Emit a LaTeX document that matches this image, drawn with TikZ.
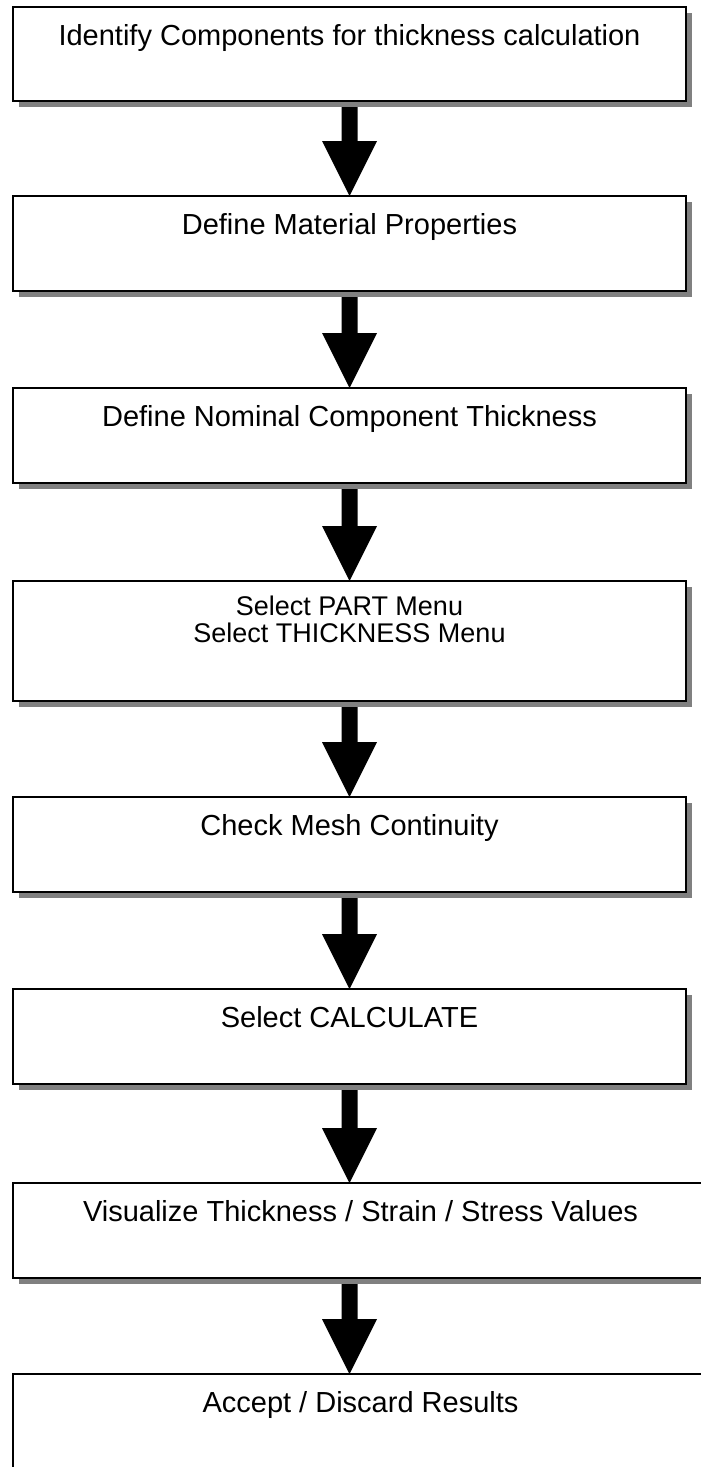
\documentclass[tikz,border=0pt]{standalone}
\usepackage{fontspec}
\setmainfont{Liberation Sans}
\usetikzlibrary{calc,shadows,backgrounds}

\tikzset{
  stepbox/.style={draw=black, line width=1.6pt, fill=white, inner sep=0pt,
    outer sep=0pt, anchor=north west,
    drop shadow={shadow xshift=5.5pt, shadow yshift=-5.5pt, fill=black!50, opacity=1}},
  steptext/.style={anchor=base, inner sep=0pt, font=\fontsize{29}{29}\selectfont},
  smalltext/.style={anchor=base, inner sep=0pt, font=\fontsize{27}{27}\selectfont},
}

% thick block arrow: 16pt shaft, 55pt triangular head ending at #2
\newcommand{\bigarrow}[2]{%
  \fill[black] let \p1=(#1), \p2=(#2) in
    (\x1-8pt,\y1) -- (\x1+8pt,\y1) -- (\x1+8pt,\y2+55pt) -- (\x1+27.5pt,\y2+55pt)
    -- (\x1,\y2) -- (\x1-27.5pt,\y2+55pt) -- (\x1-8pt,\y2+55pt) -- cycle;}

\begin{document}
\begin{tikzpicture}[x=1pt, y=1pt]
\useasboundingbox (0,0) rectangle (701,-1467);

% process boxes
\node[stepbox, minimum width=673pt, minimum height=94pt]  (b1) at (13,-7)    {};
\node[stepbox, minimum width=673pt, minimum height=95pt]  (b2) at (13,-196)  {};
\node[stepbox, minimum width=673pt, minimum height=95pt]  (b3) at (13,-388)  {};
\node[stepbox, minimum width=673pt, minimum height=120pt] (b4) at (13,-581)  {};
\node[stepbox, minimum width=673pt, minimum height=95pt]  (b5) at (13,-797)  {};
\node[stepbox, minimum width=673pt, minimum height=95pt]  (b6) at (13,-989)  {};
\node[stepbox, minimum width=695pt, minimum height=95pt]  (b7) at (13,-1183) {};
\node[stepbox, minimum width=695pt, minimum height=110pt] (b8) at (13,-1374) {};

% labels
\node[steptext]  (t1)  at ($(b1.north)+(0,-38)$)   {Identify Components for thickness calculation};
\node[steptext]  (t2)  at ($(b2.north)+(0,-38)$)   {Define Material Properties};
\node[steptext]  (t3)  at ($(b3.north)+(0,-38)$)   {Define Nominal Component Thickness};
\node[smalltext] (t4a) at ($(b4.north)+(0,-34.5)$) {Select PART Menu};
\node[smalltext] (t4b) at ($(b4.north)+(0,-61)$)   {Select THICKNESS Menu};
\node[steptext]  (t5)  at ($(b5.north)+(0,-38)$)   {Check Mesh Continuity};
\node[steptext]  (t6)  at ($(b6.north)+(0,-38)$)   {Select CALCULATE};
\node[steptext]  (t7)  at ($(b7.north)+(0,-38)$)   {Visualize Thickness / Strain / Stress Values};
\node[steptext]  (t8)  at ($(b8.north)+(0,-38)$)   {Accept / Discard Results};

% connectors, kept behind the boxes and their shadows
\begin{pgfonlayer}{background}
  \bigarrow{b1.south}{b2.north}
  \bigarrow{b2.south}{b3.north}
  \bigarrow{b3.south}{b4.north}
  \bigarrow{b4.south}{b5.north}
  \bigarrow{b5.south}{b6.north}
  \bigarrow{b6.south}{b7.north -| b6.south}
  \bigarrow{b7.south -| b1.south}{b8.north -| b1.south}
\end{pgfonlayer}
\end{tikzpicture}
\end{document}
